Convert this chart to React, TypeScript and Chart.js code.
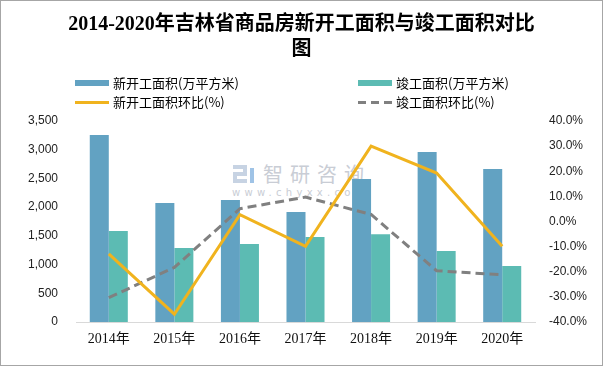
import React, { useEffect, useRef } from "react";
import { Chart, registerables } from "chart.js";

Chart.register(...registerables);

const years = ["2014年", "2015年", "2016年", "2017年", "2018年", "2019年", "2020年"];
const newStartArea = [3255, 2070, 2125, 1915, 2490, 2960, 2665];
const completedArea = [1585, 1290, 1360, 1480, 1530, 1235, 975];
const newStartGrowth = [-12.9, -36.9, 2.7, -9.9, 30.0, 19.3, -9.9];
const completedGrowth = [-30.3, -18.3, 5.1, 9.7, 2.8, -19.6, -21.2];
const leftTicks = { min: 0, max: 3500, step: 500 };
const rightTicks = { min: -40, max: 40, step: 10 };

const labelNewArea = "新开工面积(万平方米)";
const labelCompArea = "竣工面积(万平方米)";
const labelNewGrowth = "新开工面积环比(%)";
const labelCompGrowth = "竣工面积环比(%)";

const BLUE = "#62A2C2";
const TEAL = "#5CBBB3";
const ORANGE = "#F0B31E";
const GRAY = "#808080";

export default function App() {
  const ref = useRef<HTMLCanvasElement | null>(null);

  useEffect(() => {
    if (!ref.current) return;
    const chart = new Chart(ref.current, {
      type: "bar",
      data: {
        labels: years,
        datasets: [
          {
            type: "line",
            label: labelNewGrowth,
            data: newStartGrowth,
            yAxisID: "y1",
            borderColor: ORANGE,
            backgroundColor: ORANGE,
            borderWidth: 3,
            pointRadius: 0,
            tension: 0,
            order: 0,
          } as any,
          {
            type: "line",
            label: labelCompGrowth,
            data: completedGrowth,
            yAxisID: "y1",
            borderColor: GRAY,
            backgroundColor: GRAY,
            borderWidth: 3,
            borderDash: [9, 5],
            pointRadius: 0,
            tension: 0,
            order: 0,
          } as any,
          {
            type: "bar",
            label: labelNewArea,
            data: newStartArea,
            yAxisID: "y",
            backgroundColor: BLUE,
            barPercentage: 1,
            categoryPercentage: 0.58,
            order: 1,
          },
          {
            type: "bar",
            label: labelCompArea,
            data: completedArea,
            yAxisID: "y",
            backgroundColor: TEAL,
            barPercentage: 1,
            categoryPercentage: 0.58,
            order: 1,
          },
        ],
      },
      options: {
        responsive: false,
        animation: false,
        devicePixelRatio: 1,
        layout: { padding: { top: 121, left: 0, right: 0, bottom: 0 } },
        plugins: {
          legend: { display: false },
          title: { display: false },
          tooltip: { enabled: false },
        },
        scales: {
          x: {
            grid: { display: false, drawTicks: false },
            border: { display: true, color: "#D9D9D9", width: 1 },
            ticks: {
              color: "#111",
              padding: 9,
              font: { family: "'Liberation Serif', 'Noto Sans CJK SC'", size: 14 },
            },
            afterFit: (s: any) => {
              s.height = 44;
            },
          },
          y: {
            position: "left",
            min: leftTicks.min,
            max: leftTicks.max,
            grid: { display: false, drawTicks: false },
            border: { display: false },
            ticks: {
              stepSize: leftTicks.step,
              color: "#222",
              padding: 18,
              font: { family: "'Liberation Sans'", size: 12 },
              callback: (v: any) => Number(v).toLocaleString("en-US"),
            },
            afterFit: (s: any) => {
              s.width = 76;
            },
          },
          y1: {
            position: "right",
            min: rightTicks.min,
            max: rightTicks.max,
            grid: { display: false, drawTicks: false },
            border: { display: false },
            ticks: {
              stepSize: rightTicks.step,
              color: "#222",
              padding: 14,
              font: { family: "'Liberation Sans'", size: 12 },
              callback: (v: any) => Number(v).toFixed(1) + "%",
            },
            afterFit: (s: any) => {
              s.width = 68;
            },
          },
        },
      },
    });
    return () => chart.destroy();
  }, []);

  const legendText: React.CSSProperties = {
    position: "absolute",
    fontFamily: "'Noto Sans CJK SC', sans-serif",
    fontSize: 13,
    color: "#000",
    lineHeight: "16px",
    whiteSpace: "nowrap",
  };

  return (
    <div
      style={{
        position: "fixed",
        left: 0,
        top: 0,
        width: 603,
        height: 366,
        background: "#fff",
        overflow: "hidden",
      }}
    >
      {/* watermark */}
      <div
        style={{
          position: "absolute",
          left: 263,
          top: 161,
          fontFamily: "'Noto Sans CJK SC', sans-serif",
          fontSize: 20,
          letterSpacing: 7,
          color: "#C9CDD5",
          lineHeight: "26px",
          whiteSpace: "nowrap",
        }}
      >
        智研咨询
      </div>
      <div
        style={{
          position: "absolute",
          left: 232,
          top: 187,
          fontFamily: "'DejaVu Sans', sans-serif",
          fontSize: 10,
          letterSpacing: 4.3,
          color: "#C9CDD5",
          lineHeight: "12px",
          whiteSpace: "nowrap",
        }}
      >
        www.chyxx.com
      </div>
      <div style={{ position: "absolute", left: 233, top: 165, width: 22, height: 18 }}>
        <div style={{ position: "absolute", left: 0, top: 0, width: 14, height: 4, background: "#C7D3E3" }} />
        <div style={{ position: "absolute", left: 10, top: 0, width: 4, height: 10, background: "#C7D3E3" }} />
        <div style={{ position: "absolute", left: 0, top: 7, width: 14, height: 4, background: "#C7D3E3" }} />
        <div style={{ position: "absolute", left: 0, top: 7, width: 4, height: 11, background: "#C7D3E3" }} />
        <div style={{ position: "absolute", left: 0, top: 14, width: 14, height: 4, background: "#C7D3E3" }} />
        <div style={{ position: "absolute", left: 17, top: 3, width: 4, height: 15, background: "#9FC3E6" }} />
      </div>

      <canvas
        ref={ref}
        width={603}
        height={366}
        style={{ position: "absolute", left: 0, top: 0, width: 603, height: 366 }}
      />

      {/* title */}
      <div
        style={{
          position: "absolute",
          left: 0,
          top: 11,
          width: 603,
          textAlign: "center",
          fontFamily: "'Liberation Serif', 'Noto Sans CJK SC', serif",
          fontWeight: "bold",
          fontSize: 20,
          lineHeight: "25px",
          color: "#000",
        }}
      >
        2014-2020年吉林省商品房新开工面积与竣工面积对比
        <br />图
      </div>

      {/* legend */}
      <div style={{ position: "absolute", left: 75, top: 80, width: 34, height: 6, background: BLUE }} />
      <div style={{ ...legendText, left: 113, top: 75 }}>{labelNewArea}</div>
      <div style={{ position: "absolute", left: 358, top: 80, width: 34, height: 6, background: TEAL }} />
      <div style={{ ...legendText, left: 396, top: 75 }}>{labelCompArea}</div>
      <div style={{ position: "absolute", left: 75, top: 101, width: 34, height: 3, background: ORANGE }} />
      <div style={{ ...legendText, left: 113, top: 94 }}>{labelNewGrowth}</div>
      <svg style={{ position: "absolute", left: 358, top: 100 }} width={34} height={5}>
        <line x1={0} y1={2.5} x2={34} y2={2.5} stroke={GRAY} strokeWidth={3} strokeDasharray="8 5" />
      </svg>
      <div style={{ ...legendText, left: 396, top: 94 }}>{labelCompGrowth}</div>

      {/* frame */}
      <div
        style={{
          position: "absolute",
          left: 0,
          top: 0,
          width: 603,
          height: 366,
          boxSizing: "border-box",
          border: "1px solid #A6A6A6",
          pointerEvents: "none",
        }}
      />
    </div>
  );
}
